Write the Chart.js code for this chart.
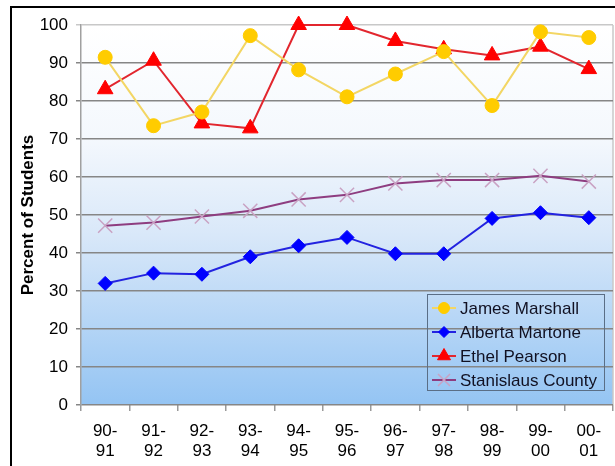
<!DOCTYPE html>
<html>
<head>
<meta charset="utf-8">
<script src="https://cdn.jsdelivr.net/npm/chart.js@4/dist/chart.umd.min.js"></script>
<style>
  html, body { margin: 0; padding: 0; background: #fff; }
  #wrap { width: 615px; height: 466px; position: relative; }
</style>
</head>
<body>
<div id="wrap"><canvas id="studentsChart" width="615" height="466"></canvas></div>
<script>
'use strict';

// ---- data ----
var categories = [
    ['90-', '91'], ['91-', '92'], ['92-', '93'], ['93-', '94'], ['94-', '95'], ['95-', '96'],
    ['96-', '97'], ['97-', '98'], ['98-', '99'], ['99-', '00'], ['00-', '01']
];
var jamesMarshall    = [91.5, 73.5, 77.1, 97.2, 88.2, 81.1, 87.1, 93.0, 78.8, 98.2, 96.7];
var albertaMartone   = [32.0, 34.7, 34.4, 39.0, 41.9, 44.1, 39.8, 39.8, 49.1, 50.6, 49.3];
var ethelPearson     = [83.1, 90.6, 74.1, 72.8, 100, 100, 95.8, 93.6, 92.0, 94.3, 88.4];
var stanislausCounty = [47.2, 48.0, 49.6, 51.1, 54.1, 55.3, 58.3, 59.2, 59.2, 60.3, 58.8];
var yTicks = [0, 10, 20, 30, 40, 50, 60, 70, 80, 90, 100];

var FONT = '"Liberation Sans", Arial, sans-serif';

// ------------------------------------------------------- //
// gradient plot background + outer frame
// ------------------------------------------------------ //
var backdrop = {
    id: 'backdrop',
    beforeDraw: function (chart) {
        var ctx = chart.ctx, a = chart.chartArea;
        ctx.save();
        var g = ctx.createLinearGradient(0, a.top, 0, a.bottom);
        g.addColorStop(0, '#ffffff');
        g.addColorStop(0.3, '#f4f8fd');
        g.addColorStop(0.55, '#d9e8f9');
        g.addColorStop(1, '#94c4f3');
        ctx.fillStyle = g;
        ctx.fillRect(a.left, a.top, a.right - a.left, a.bottom - a.top);
        // right border of the plot
        ctx.strokeStyle = '#c8c8c8';
        ctx.lineWidth = 1.5;
        ctx.beginPath();
        ctx.moveTo(a.right, a.top);
        ctx.lineTo(a.right, a.bottom);
        ctx.stroke();
        // outer black frame (top + left visible)
        ctx.strokeStyle = '#000';
        ctx.lineWidth = 2;
        ctx.beginPath();
        ctx.moveTo(11, 470);
        ctx.lineTo(11, 7);
        ctx.lineTo(620, 7);
        ctx.stroke();
        ctx.restore();
    }
};

// ------------------------------------------------------- //
// legend drawn inside the plot, bottom right
// ------------------------------------------------------ //
var boxLegend = {
    id: 'boxLegend',
    afterDraw: function (chart) {
        var ctx = chart.ctx;
        var x = 427, y = 294, w = 177, h = 96, rowH = 24;
        ctx.save();
        ctx.strokeStyle = '#5a6e86';
        ctx.lineWidth = 1;
        ctx.strokeRect(x + 0.5, y + 0.5, w, h);
        ctx.font = '17px ' + FONT;
        ctx.textBaseline = 'middle';
        ctx.textAlign = 'left';
        chart.data.datasets.forEach(function (ds, i) {
            var cy = y + 14 + i * rowH;
            ctx.strokeStyle = ds.borderColor;
            ctx.lineWidth = 2;
            ctx.beginPath();
            ctx.moveTo(x + 5, cy);
            ctx.lineTo(x + 29, cy);
            ctx.stroke();
            ctx.fillStyle = ds.pointBackgroundColor;
            ctx.strokeStyle = ds.pointBorderColor;
            ctx.lineWidth = ds.pointBorderWidth;
            Chart.helpers.drawPoint(ctx, {
                pointStyle: ds.pointStyle,
                radius: ds.pointRadius - 1.5,
                borderWidth: ds.pointBorderWidth,
                rotation: 0
            }, x + 17, cy);
            ctx.fillStyle = '#111122';
            ctx.fillText(ds.label, x + 33, cy + 1);
        });
        ctx.restore();
    }
};

var ctxEl = document.getElementById('studentsChart');
var studentsChart = new Chart(ctxEl, {
    type: 'line',
    plugins: [backdrop, boxLegend],
    data: {
        labels: categories,
        datasets: [{
            label: 'James Marshall',
            data: jamesMarshall,
            borderColor: '#f3d664',
            borderWidth: 2,
            pointStyle: 'circle',
            pointRadius: 7,
            pointBackgroundColor: '#ffcc00',
            pointBorderColor: '#ffcc00',
            pointBorderWidth: 1
        }, {
            label: 'Alberta Martone',
            data: albertaMartone,
            borderColor: '#2323e0',
            borderWidth: 2,
            pointStyle: 'rectRot',
            pointRadius: 7,
            pointBackgroundColor: '#0000ff',
            pointBorderColor: '#0000ff',
            pointBorderWidth: 1
        }, {
            label: 'Ethel Pearson',
            data: ethelPearson,
            borderColor: '#e2262e',
            borderWidth: 2,
            pointStyle: 'triangle',
            pointRadius: 9,
            pointBackgroundColor: '#ff0000',
            pointBorderColor: '#ff0000',
            pointBorderWidth: 1
        }, {
            label: 'Stanislaus County',
            data: stanislausCounty,
            borderColor: '#8e3d80',
            borderWidth: 2,
            pointStyle: 'crossRot',
            pointRadius: 10,
            pointBackgroundColor: '#c9a2c3',
            pointBorderColor: '#c9a2c3',
            pointBorderWidth: 1.5
        }]
    },
    options: {
        responsive: false,
        animation: false,
        clip: false,
        layout: { autoPadding: false, padding: { left: 12, top: 25, right: 2, bottom: 0 } },
        elements: { line: { tension: 0 } },
        plugins: {
            legend: { display: false },
            tooltip: { enabled: false }
        },
        scales: {
            x: {
                offset: true,
                grid: {
                    offset: true,
                    drawOnChartArea: false,
                    drawTicks: true,
                    tickLength: 6,
                    color: '#9a9a9a',
                    lineWidth: 1.5
                },
                border: { display: false },
                ticks: {
                    color: '#000',
                    font: { family: FONT, size: 17 },
                    padding: 10,
                    maxRotation: 0,
                    autoSkip: false
                },
                afterFit: function (scale) { scale.height = 61; }
            },
            y: {
                min: 0,
                max: 100,
                afterBuildTicks: function (scale) {
                    scale.ticks = yTicks.map(function (v) { return { value: v }; });
                },
                grid: {
                    color: function (c) { return c.tick && c.tick.value === 100 ? '#c8c8c8' : '#868686'; },
                    lineWidth: 1.5,
                    tickLength: 5
                },
                border: { display: true, color: '#a0a0a0', width: 1.5 },
                ticks: {
                    color: '#000',
                    font: { family: FONT, size: 17 },
                    padding: 8
                },
                title: {
                    display: true,
                    text: 'Percent of Students',
                    color: '#000',
                    font: { family: FONT, size: 17, weight: 'bold' },
                    padding: { top: 6, bottom: 0 }
                },
                afterFit: function (scale) { scale.width = 69; }
            }
        }
    }
});
</script>
</body>
</html>
